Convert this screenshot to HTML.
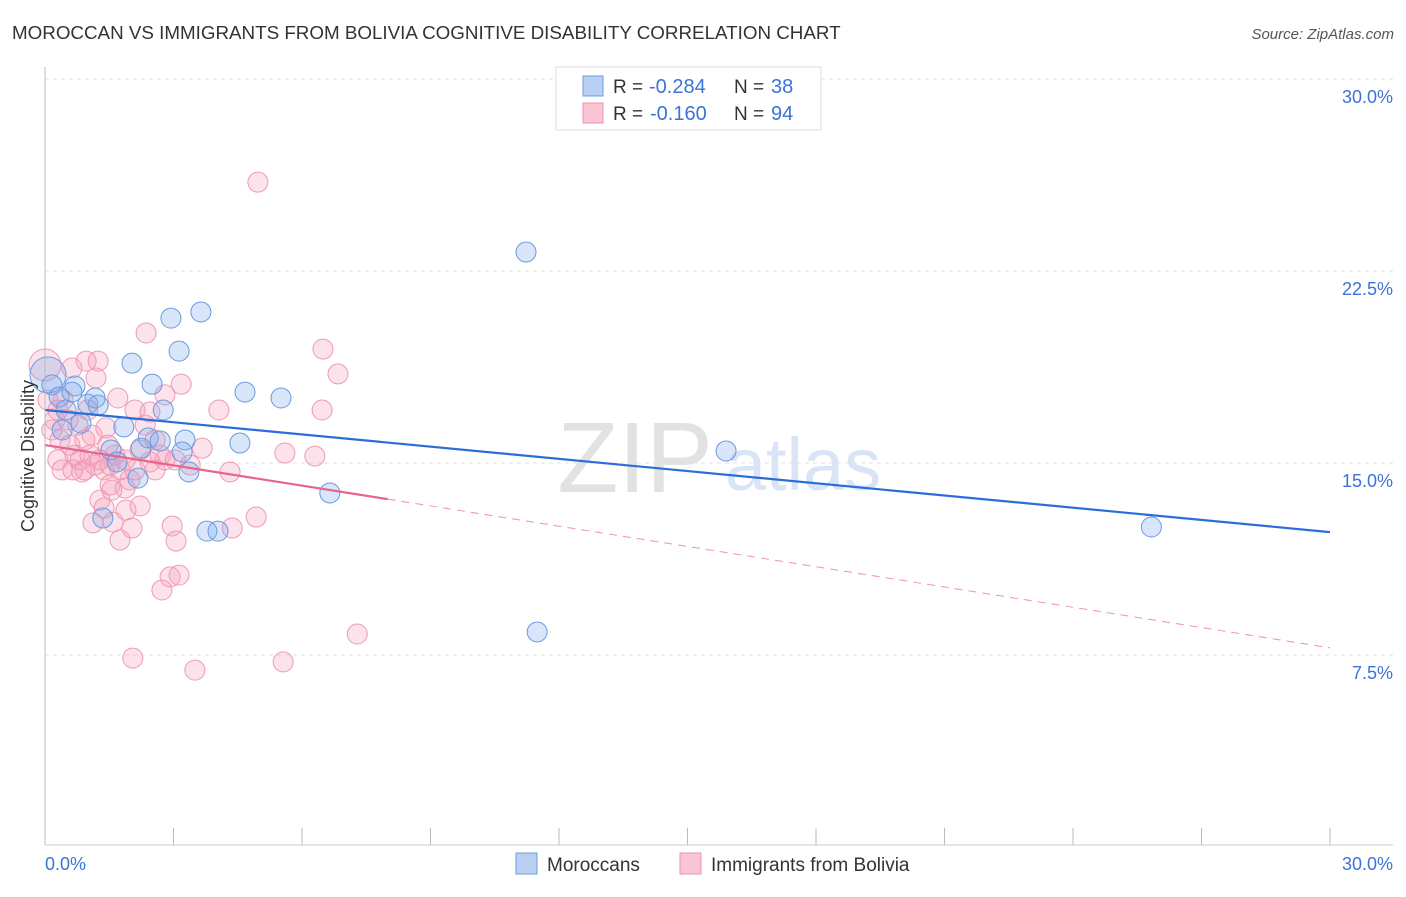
<!DOCTYPE html>
<html><head><meta charset="utf-8"><style>
body{margin:0;background:#fff;font-family:"Liberation Sans",sans-serif;}
svg text{font-family:"Liberation Sans",sans-serif;}
</style></head><body>
<svg id="chart" width="1406" height="892" xmlns="http://www.w3.org/2000/svg">
<text x="12" y="39" font-size="18.8" fill="#333">MOROCCAN VS IMMIGRANTS FROM BOLIVIA COGNITIVE DISABILITY CORRELATION CHART</text>
<text x="1394" y="39" font-size="15" fill="#555" font-style="italic" text-anchor="end">Source: ZipAtlas.com</text>
<text x="635" y="492" font-size="100" fill="#e2e2e2" font-family="Liberation Serif" text-anchor="middle">ZIP</text>
<text x="803" y="490" font-size="74" fill="#d9e5f6" text-anchor="middle">atlas</text>
<g id="grid"></g><g id="pts"></g><g id="lines"></g>
<line x1="45" y1="67" x2="45" y2="845" stroke="#bbb"/>
<line x1="45" y1="845" x2="1393" y2="845" stroke="#ccc"/>
<text transform="translate(34,456) rotate(-90)" font-size="18" fill="#333" text-anchor="middle">Cognitive Disability</text>
<text x="45" y="870" font-size="18" fill="#3b74d6">0.0%</text>
<text x="1393" y="870" font-size="18" fill="#3b74d6" text-anchor="end">30.0%</text>
<g>
<rect x="556" y="67" width="265" height="63" fill="#fff" stroke="#ddd"/>
<rect x="583" y="76" width="20" height="20" fill="#b9d0f2" stroke="#6a9be0"/>
<rect x="583" y="103" width="20" height="20" fill="#f9c5d4" stroke="#ea91ad"/>
<text x="613" y="93" font-size="19" fill="#333">R =</text>
<text x="649" y="93" font-size="20" fill="#3b74d6">-0.284</text>
<text x="734" y="93" font-size="19" fill="#333">N =</text>
<text x="771" y="93" font-size="20" fill="#3b74d6">38</text>
<text x="613" y="120" font-size="19" fill="#333">R =</text>
<text x="650" y="120" font-size="20" fill="#3b74d6">-0.160</text>
<text x="734" y="120" font-size="19" fill="#333">N =</text>
<text x="771" y="120" font-size="20" fill="#3b74d6">94</text>
</g>
<g>
<rect x="516" y="853" width="21" height="21" fill="#b9d0f2" stroke="#6a9be0"/>
<text x="547" y="871" font-size="19" fill="#333">Moroccans</text>
<rect x="680" y="853" width="21" height="21" fill="#f9c5d4" stroke="#ea91ad"/>
<text x="711" y="871" font-size="19" fill="#333">Immigrants from Bolivia</text>
</g>
</svg>
<script>
const yTicks=[7.5,15,22.5,30];
const yTickLabels=["7.5%","15.0%","22.5%","30.0%"];
const xTickCount=10;
const blueX=[0.07,0.16,0.70,0.33,0.49,1.00,1.24,1.17,0.84,2.03,2.50,2.94,3.13,3.64,2.76,4.67,5.51,1.84,2.41,2.69,3.27,3.20,1.54,1.68,4.55,2.17,1.35,3.78,4.04,3.36,6.65,11.23,15.90,11.49,25.83,2.24,0.40,0.63];
const blueY=[18.44,18.05,18.01,17.58,17.07,17.30,17.26,17.54,16.56,18.90,18.08,20.66,19.37,20.90,17.07,17.77,17.54,16.41,15.98,15.86,15.90,15.43,15.51,15.04,15.78,14.41,12.85,12.34,12.34,14.65,13.83,23.24,15.47,8.40,12.50,15.58,16.29,17.77];
const pinkX=[0.00,0.07,0.23,0.35,0.30,0.40,0.58,0.70,0.82,0.93,1.05,1.17,1.28,1.38,1.52,1.63,1.75,1.87,1.98,2.10,0.63,0.96,1.24,1.19,1.00,1.42,1.70,2.10,2.34,2.45,2.80,3.18,2.36,4.06,2.69,3.04,3.39,3.67,4.32,2.57,1.28,1.38,1.59,1.89,2.22,1.12,1.75,2.03,2.97,3.06,4.37,4.93,2.73,2.92,3.13,2.05,3.50,5.56,4.97,6.49,6.84,6.47,5.60,6.30,7.29,1.52,1.87,0.42,0.77,0.93,2.22,2.57,0.54,0.16,0.30,1.10,1.47,0.65,0.86,2.80,2.45,1.56];
const pinkY=[18.83,17.46,16.68,15.90,15.12,14.73,15.70,15.31,15.12,14.73,15.31,14.92,15.12,14.73,14.92,15.31,14.73,15.12,14.34,14.73,18.71,18.98,18.98,18.32,17.07,16.37,17.54,17.07,16.48,16.99,17.66,18.08,20.08,17.07,15.31,15.12,14.92,15.58,14.65,14.73,13.55,13.24,12.69,13.16,13.32,12.66,11.99,12.46,12.54,11.95,12.46,12.89,10.04,10.55,10.62,7.38,6.91,7.23,25.97,19.45,18.48,17.07,15.39,15.27,8.32,14.14,14.02,17.46,16.48,15.90,15.51,15.90,16.68,16.29,17.07,16.09,15.70,14.73,14.65,15.12,15.04,13.94];
const blueTrend=[17.07,-0.159];
const pinkTrend=[15.70,-0.264];
const pinkSolidEnd=8.0;
const NS="http://www.w3.org/2000/svg";
const X=v=>45+v/30*1285, Y=v=>847-v/7.5*192;
function mk(t,a,p){const e=document.createElementNS(NS,t);for(const k in a)e.setAttribute(k,a[k]);p.appendChild(e);return e;}
const grid=document.getElementById('grid');
yTicks.forEach((t,i)=>{
 const l=mk('line',{x1:45,x2:1393,y1:Y(t),y2:Y(t),stroke:'#e2e2e2','stroke-dasharray':'4,4'},grid);
 
 
 const tx=mk('text',{x:1393,y:Y(t)+24,'font-size':18,fill:'#3b74d6','text-anchor':'end'},grid);
 tx.textContent=yTickLabels[i];
 
 
});
for(let i=1;i<=xTickCount;i++){
 const l=mk('line',{x1:X(i*3),x2:X(i*3),y1:828,y2:845,stroke:'#bbb'},grid);
 
 
}
const pts=document.getElementById('pts');
function dots(xs,ys,fill,stroke,name,big){
 xs.forEach((x,i)=>{
  const r=(i===0)?big:10;
  const c=mk('circle',{cx:X(x),cy:Y(ys[i]),r:r,fill:fill,stroke:stroke,'stroke-width':1},pts);
  
  
 });
}
dots(pinkX,pinkY,'rgba(245,160,185,0.3)','#ee9ab5','point-bolivia',16);
dots(blueX,blueY,'rgba(130,170,235,0.3)','#6a9be0','point-moroccan',18);
const lines=document.getElementById('lines');
const bl=mk('line',{x1:X(0),y1:Y(blueTrend[0]),x2:X(30),y2:Y(blueTrend[0]+blueTrend[1]*30),stroke:'#2a6dd9','stroke-width':2.2},lines);


const pl=mk('line',{x1:X(0),y1:Y(pinkTrend[0]),x2:X(pinkSolidEnd),y2:Y(pinkTrend[0]+pinkTrend[1]*pinkSolidEnd),stroke:'#e8648f','stroke-width':2.2},lines);


const pd=mk('line',{x1:X(pinkSolidEnd),y1:Y(pinkTrend[0]+pinkTrend[1]*pinkSolidEnd),x2:X(30),y2:Y(pinkTrend[0]+pinkTrend[1]*30),stroke:'#e8648f','stroke-width':1,'stroke-dasharray':'8,6',opacity:0.7},lines);


</script>
</body></html>
